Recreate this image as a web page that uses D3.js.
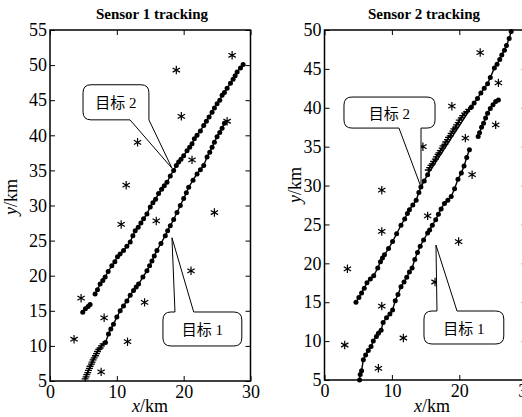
<!DOCTYPE html>
<html>
<head>
<meta charset="utf-8">
<script src="https://cdn.jsdelivr.net/npm/d3@7"></script>
<style>
  html, body { margin: 0; padding: 0; background: #fff; }
  svg { display: block; }
</style>
</head>
<body>
<svg width="522" height="417"></svg>
<script>
// tick values
const xTicks = [0, 10, 20, 30];
const yTicks1 = [5, 10, 15, 20, 25, 30, 35, 40, 45, 50, 55];
const yTicks2 = [5, 10, 15, 20, 25, 30, 35, 40, 45, 50];

// Sensor 1: target 2 (upper track), null = gap
const s1Target2 = [
  [4.9, 14.8], [5.3, 15.3], [5.7, 15.6], [6.0, 15.9], null,
  [6.75, 17.4], [7.1, 18.0], [7.5, 18.8], [7.9, 19.3], [8.25, 19.8], [8.7, 20.6],
  [9.25, 21.4], [9.7, 22.0], [10.1, 22.7], [10.5, 23.1], [11.0, 23.6], [11.5, 24.2],
  [12.0, 24.8], [12.4, 25.7], [12.75, 26.4], [13.2, 26.9], [13.6, 27.5], [14.0, 28.1],
  [14.5, 28.8], [15.0, 29.8], [15.4, 30.4], [15.8, 30.9], [16.25, 31.7], [16.7, 32.3],
  [17.1, 32.8], [17.5, 33.3], [18.0, 34.2], [18.5, 35.0], [18.9, 35.7], [19.25, 36.2],
  [19.6, 36.6], [20.0, 37.1], [20.5, 37.8], [20.9, 38.3], [21.25, 38.8], [21.6, 39.5],
  [22.0, 40.0], [22.5, 40.6], [23.0, 41.4], [23.4, 42.0], [23.8, 42.6], [24.25, 43.3],
  [24.6, 43.9], [25.0, 44.5], [25.4, 45.0], [25.75, 45.7], [26.1, 46.1], [26.5, 46.7],
  [27.0, 47.4], [27.4, 48.0], [27.7, 48.5], [28.0, 49.0], [28.5, 49.6], [28.9, 50.1]
];
// Sensor 1: target 1 (lower track)
const s1Target1 = [
  [8.3, 10.5], [8.75, 11.7], [9.1, 12.4], [9.5, 13.1], [10.0, 14.1], [10.5, 15.0],
  [11.0, 15.7], [11.5, 16.4], [12.0, 17.2], [12.5, 17.9], [12.9, 18.4], [13.25, 18.8],
  [13.9, 19.8], [14.5, 20.7], [14.9, 21.4], [15.25, 22.1], [15.6, 22.8], [16.0, 23.6],
  [16.6, 24.6], [17.25, 25.7], [17.6, 26.4], [18.0, 27.1], [18.5, 28.0], [19.0, 29.0],
  [19.5, 30.0], [20.0, 31.0], [20.4, 31.8], [20.75, 32.6], [21.4, 33.6], [22.0, 34.5],
  [22.5, 35.1], [23.0, 35.7], [23.5, 36.9], [23.9, 37.6], [24.25, 38.3], [24.6, 39.0],
  [25.0, 39.8], [25.4, 40.4], [25.75, 41.0], [26.1, 41.7]
];
// Sensor 1: track initiation marks (+)
const s1Init = [
  [5.25, 5.3], [5.4, 5.6], [5.5, 5.9], [5.65, 6.2], [5.75, 6.5], [5.9, 6.8],
  [6.0, 7.1], [6.2, 7.4], [6.3, 7.7], [6.45, 8.0], [6.6, 8.3], [6.8, 8.6],
  [6.95, 8.9], [7.1, 9.2], [7.3, 9.5], [7.5, 9.7], [7.7, 10.0], [7.95, 10.3]
];
// Sensor 1: clutter
const s1Clutter = [
  [27.25, 51.4], [18.9, 49.3], [19.65, 42.7], [13.1, 39.0], [26.5, 42.0], [21.25, 36.5],
  [11.4, 32.9], [24.6, 29.0], [10.65, 27.3], [15.9, 27.8], [21.1, 20.7], [4.65, 16.8],
  [14.15, 16.2], [8.1, 14.0], [3.6, 10.95], [11.6, 10.6], [7.65, 6.3]
];

// Sensor 2: target 2 (upper track)
const s2Target2 = [
  [4.67, 15.0], [5.1, 15.6], [5.5, 16.2], [5.9, 16.8], [6.3, 17.5], [6.8, 18.0],
  [7.3, 18.4], [7.9, 19.4], [8.3, 20.2], [8.6, 20.7], [8.9, 21.1], [9.5, 21.9],
  [10.1, 22.8], [10.7, 23.8], [11.35, 24.9], [11.9, 25.7], [12.3, 26.4], [12.6, 26.9],
  [13.1, 27.5], [13.6, 28.1], [14.0, 29.1], [14.3, 29.8], [14.8, 30.6], [15.3, 31.4],
  [21.8, 40.1], [22.2, 40.6], [22.7, 41.2], [23.2, 41.9], [23.7, 42.5], [24.2, 43.1],
  [24.6, 43.9], [25.2, 45.1], [25.6, 45.6], [26.0, 46.2], [26.3, 46.8], [26.7, 47.4],
  [27.0, 48.0], [27.4, 48.9], [27.7, 49.8]
];
// Sensor 2: target 1 (lower track)
const s2Target1 = [
  [5.2, 5.0], [5.3, 5.7], [5.5, 6.2], [5.76, 7.6], [6.1, 8.2], [6.5, 8.8], [6.9, 9.3],
  [7.24, 10.0], [7.7, 10.6], [8.0, 11.0], [8.4, 11.4], [8.7, 12.4], [9.2, 13.0],
  [9.7, 13.5], [10.1, 14.0], [10.5, 15.2], [10.9, 16.0], [11.35, 17.0], [11.8, 17.6],
  [12.2, 18.2], [12.6, 18.9], [13.0, 19.4], [13.4, 20.5], [13.8, 21.4], [14.2, 22.2],
  [14.7, 23.0], [15.3, 23.9], [15.6, 24.3], [16.0, 24.9], [16.5, 25.6], [16.9, 26.3],
  [17.3, 27.0], [17.8, 27.7], [18.3, 28.1], [18.8, 28.6], [19.3, 29.6], [19.8, 30.8],
  [20.3, 31.6], [20.7, 32.5], [21.1, 33.6], [21.5, 34.6], null,
  [22.8, 36.3], [23.0, 36.8], [23.3, 37.5], [23.6, 38.0], [23.9, 38.7], [24.2, 39.3],
  [24.6, 39.9], [25.0, 40.4], [25.4, 40.8], [25.8, 41.0]
];
// Sensor 2: track initiation marks (+)
const s2Init = [
  [15.4, 32.0], [15.6, 32.3], [15.8, 32.6], [16.0, 32.8], [16.2, 33.1], [16.45, 33.4],
  [16.6, 33.7], [16.85, 34.0], [17.0, 34.2], [17.2, 34.5], [17.45, 34.8], [17.6, 35.1],
  [17.85, 35.3], [18.0, 35.6], [18.25, 35.9], [18.4, 36.2], [18.65, 36.4], [18.8, 36.7],
  [19.05, 37.0], [19.2, 37.3], [19.45, 37.5], [19.6, 37.8], [19.85, 38.1], [20.0, 38.4],
  [20.3, 38.7], [20.5, 39.0], [20.8, 39.3], [21.1, 39.5], [21.4, 39.8]
];
// Sensor 2: clutter
const s2Clutter = [
  [23.1, 47.1], [25.8, 43.2], [18.9, 40.2], [25.4, 37.8], [20.9, 36.1], [14.6, 35.0],
  [21.9, 31.4], [8.5, 29.4], [15.3, 26.1], [8.5, 24.1], [19.9, 22.8], [3.4, 19.3],
  [16.4, 17.6], [8.5, 14.5], [11.7, 10.4], [3.0, 9.5], [8.0, 6.5]
];

const serif = "'Liberation Serif', 'DejaVu Serif', serif";
const svg = d3.select("svg");

function styleAxis(sel) {
  sel.select(".domain").remove();
  sel.selectAll("line").attr("stroke", "#000").attr("stroke-width", 1);
  sel.selectAll("text")
    .attr("fill", "#000")
    .style("font-family", serif)
    .style("font-size", "18px");
}

function calloutPath(x, y, c) {
  const x0 = x(c.box[0]), x1 = x(c.box[2]);
  const y0 = y(c.box[1]), y1 = y(c.box[3]);
  const a = x(c.base[0]), b = x(c.base[1]);
  const tx = x(c.tip[0]), ty = y(c.tip[1]);
  const r = 8;
  const p = d3.path();
  p.moveTo(x0 + r, y0);
  if (c.side === "top") {
    p.lineTo(a, y0); p.lineTo(tx, ty); p.lineTo(b, y0);
  }
  p.lineTo(x1 - r, y0);
  p.quadraticCurveTo(x1, y0, x1, y0 + r);
  if (c.side === "bottom" && b >= x1 - r) {
    p.lineTo(x1, y1);
    p.lineTo(tx, ty);
    p.lineTo(a, y1);
  } else {
    p.lineTo(x1, y1 - r);
    p.quadraticCurveTo(x1, y1, x1 - r, y1);
    if (c.side === "bottom") {
      p.lineTo(b, y1); p.lineTo(tx, ty); p.lineTo(a, y1);
    }
  }
  p.lineTo(x0 + r, y1);
  p.quadraticCurveTo(x0, y1, x0, y1 - r);
  p.lineTo(x0, y0 + r);
  p.quadraticCurveTo(x0, y0, x0 + r, y0);
  p.closePath();
  return p.toString();
}

function panel(cfg) {
  const x = d3.scaleLinear().domain([0, 30]).range(cfg.xRange);
  const y = d3.scaleLinear().domain(cfg.yDomain).range(cfg.yRange);
  const g = svg.append("g");

  g.append("g")
    .attr("transform", `translate(0,${cfg.yRange[0]})`)
    .call(d3.axisBottom(x).tickValues(xTicks).tickSizeInner(-5).tickSizeOuter(0).tickPadding(4))
    .call(styleAxis);
  g.append("g")
    .attr("transform", `translate(0,${cfg.yRange[1]})`)
    .call(d3.axisTop(x).tickValues(xTicks).tickSizeInner(-5).tickSizeOuter(0).tickFormat(""))
    .call(styleAxis);
  g.append("g")
    .attr("transform", `translate(${cfg.xRange[0]},0)`)
    .call(d3.axisLeft(y).tickValues(cfg.yTicks).tickSizeInner(-5).tickSizeOuter(0).tickPadding(3))
    .call(styleAxis);
  g.append("g")
    .attr("transform", `translate(${cfg.xRange[1]},0)`)
    .call(d3.axisRight(y).tickValues(cfg.yTicks).tickSizeInner(-5).tickSizeOuter(0).tickFormat(""))
    .call(styleAxis);

  g.append("rect")
    .attr("x", cfg.xRange[0]).attr("y", cfg.yRange[1])
    .attr("width", cfg.xRange[1] - cfg.xRange[0])
    .attr("height", cfg.yRange[0] - cfg.yRange[1])
    .attr("fill", "none").attr("stroke", "#000").attr("stroke-width", 1.5);

  // tracks
  const line = d3.line().defined(d => d).x(d => x(d[0])).y(d => y(d[1]));
  [cfg.target1, cfg.target2].forEach(track => {
    g.append("path")
      .attr("d", line(track))
      .attr("fill", "none").attr("stroke", "#000").attr("stroke-width", 1.4);
    g.append("g")
      .selectAll("circle")
      .data(track.filter(d => d))
      .join("circle")
      .attr("cx", d => x(d[0]))
      .attr("cy", d => y(d[1]))
      .attr("r", 2.5)
      .attr("fill", "#000");
  });

  // initiation marks
  g.append("path")
    .attr("d", line(cfg.init))
    .attr("fill", "none").attr("stroke", "#000").attr("stroke-width", 1.4);
  g.append("g")
    .selectAll("path")
    .data(cfg.init)
    .join("path")
    .attr("transform", d => `translate(${x(d[0])},${y(d[1])})`)
    .attr("d", "M-3.5,0H3.5M0,-2.5V2.5")
    .attr("stroke", "#000").attr("stroke-width", 1.3);

  // clutter
  const star = d3.symbol().type(d3.symbolAsterisk).size(50);
  g.append("g")
    .selectAll("path")
    .data(cfg.clutter)
    .join("path")
    .attr("transform", d => `translate(${x(d[0])},${y(d[1])})`)
    .attr("d", star)
    .attr("stroke", "#000").attr("stroke-width", 1.2);

  // callouts
  cfg.callouts.forEach(c => {
    g.append("path")
      .attr("d", calloutPath(x, y, c))
      .attr("fill", "#fff").attr("stroke", "#000").attr("stroke-width", 1);
    g.append("text")
      .attr("x", (x(c.box[0]) + x(c.box[2])) / 2)
      .attr("y", (y(c.box[1]) + y(c.box[3])) / 2 + 6)
      .attr("text-anchor", "middle")
      .style("font-family", "'Liberation Serif', 'Noto Sans CJK SC', serif")
      .style("font-size", "15px")
      .text(c.label);
  });

  // titles and labels
  g.append("text")
    .attr("x", cfg.titleX).attr("y", 19)
    .attr("text-anchor", "middle")
    .style("font-family", serif).style("font-size", "15px").style("font-weight", "bold")
    .text(cfg.title);

  const xl = g.append("text")
    .attr("x", cfg.xLabelX).attr("y", 412)
    .attr("text-anchor", "middle")
    .style("font-family", serif).style("font-size", "18px");
  xl.append("tspan").style("font-style", "italic").text("x");
  xl.append("tspan").text("/km");

  const yl = g.append("text")
    .attr("transform", `translate(${cfg.yLabelX},${cfg.yLabelY}) rotate(-90)`)
    .attr("text-anchor", "middle")
    .style("font-family", serif).style("font-size", "18px");
  yl.append("tspan").style("font-style", "italic").text("y");
  yl.append("tspan").text("/km");
}

panel({
  xRange: [50, 250.5], yDomain: [5, 55], yRange: [381, 30], yTicks: yTicks1,
  target1: s1Target1, target2: s1Target2, init: s1Init, clutter: s1Clutter,
  title: "Sensor 1 tracking", titleX: 152, xLabelX: 150, yLabelX: 17, yLabelY: 197,
  callouts: [
    { label: "目标 2", side: "bottom", box: [4.94, 47.2, 14.8, 42.2], base: [11.97, 14.8], tip: [18.26, 35.3] },
    { label: "目标 1", side: "top", box: [16.9, 14.83, 28.7, 9.99], base: [18.7, 21.5], tip: [18.25, 25.4] }
  ]
});

panel({
  xRange: [324.5, 526.7], yDomain: [5, 50], yRange: [380, 30], yTicks: yTicks2,
  target1: s2Target1, target2: s2Target2, init: s2Init, clutter: s2Clutter,
  title: "Sensor 2 tracking", titleX: 424, xLabelX: 432, yLabelX: 301, yLabelY: 185,
  callouts: [
    { label: "目标 2", side: "bottom", box: [2.89, 41.38, 16.4, 37.39], base: [11.05, 14.32], tip: [14.32, 29.8] },
    { label: "目标 1", side: "top", box: [14.76, 13.87, 26.6, 9.63], base: [16.69, 19.66], tip: [16.54, 22.35] }
  ]
});
</script>
</body>
</html>
